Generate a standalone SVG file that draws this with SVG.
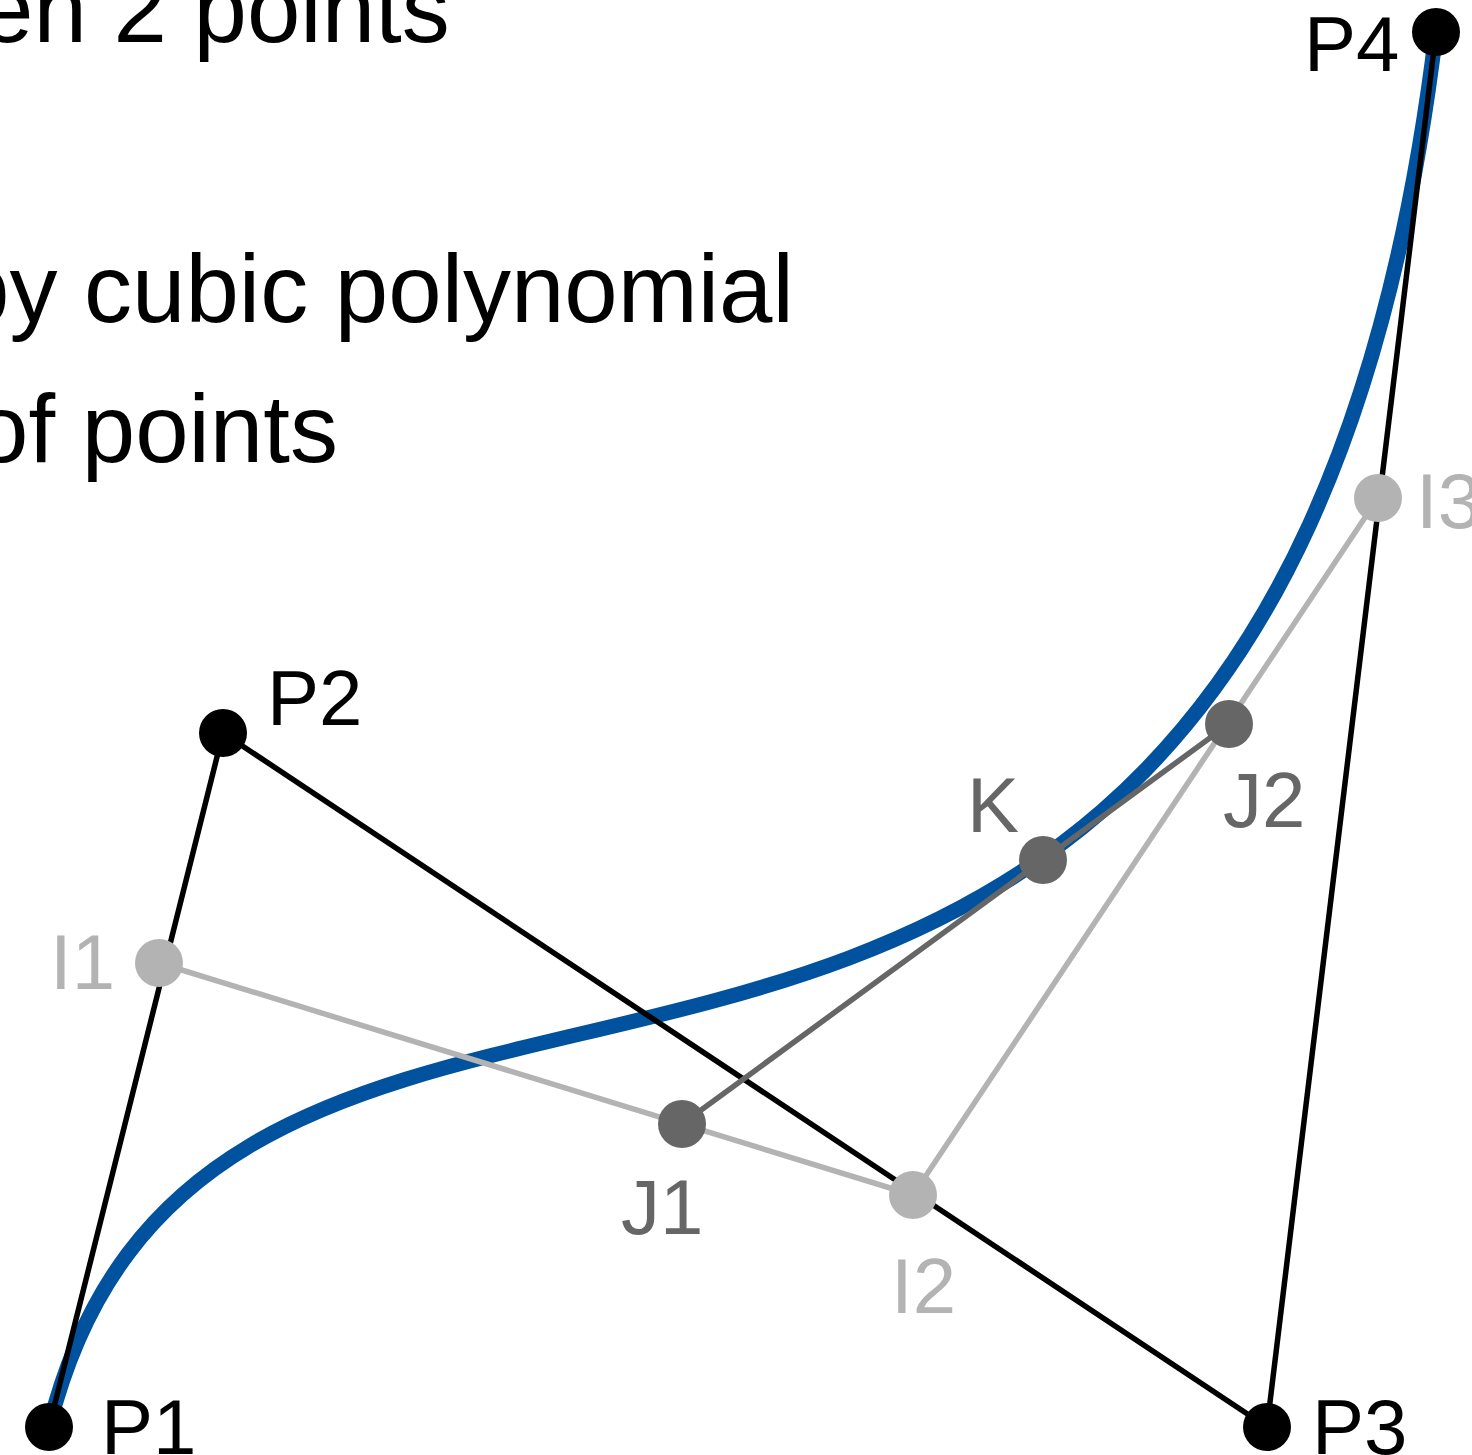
<svg xmlns="http://www.w3.org/2000/svg" width="1472" height="1455" viewBox="0 0 1472 1455">
<style>
text{font-family:"Liberation Sans",Arial,sans-serif;}
.t{font-size:96px;fill:#000;}
.lbl{font-size:78px;}
.blk{fill:#000;}
.lg{fill:#b3b3b3;}
.dg{fill:#666666;}
.ln{fill:none;stroke-width:5.5;stroke-linecap:round;stroke-linejoin:round;}
</style>
<rect width="1472" height="1455" fill="#fff"/>
<g id="title">
<text class="t" x="-20" y="42">en 2 points</text>
<text class="t" x="-44" y="322">by cubic polynomial</text>
<text class="t" x="-25" y="462">of points</text>
</g>
<g id="connectors">
<path id="curve" d="M49,1427 C223,733 1267,1427 1436,32" fill="none" stroke="#00519e" stroke-width="15"/>
<polyline class="ln" points="49,1427 223,733 1267,1427 1436,32" stroke="#000"/>
<polyline class="ln" points="159,963 913,1195 1378,498" stroke="#b3b3b3"/>
<line class="ln" x1="682" y1="1124" x2="1229" y2="724" stroke="#666666"/>
</g>
<g id="P1"><circle class="blk" cx="49" cy="1427" r="24"/><text class="lbl blk" x="101" y="1454">P1</text></g>
<g id="P2"><circle class="blk" cx="223" cy="733" r="24"/><text class="lbl blk" x="267" y="725">P2</text></g>
<g id="P3"><circle class="blk" cx="1267" cy="1427" r="24"/><text class="lbl blk" x="1312" y="1454">P3</text></g>
<g id="P4"><circle class="blk" cx="1436" cy="32" r="24"/><text class="lbl blk" x="1304" y="71">P4</text></g>
<g id="I1"><circle class="lg" cx="159" cy="963" r="24"/><text class="lbl lg" x="50" y="989">I1</text></g>
<g id="I2"><circle class="lg" cx="913" cy="1195" r="24"/><text class="lbl lg" x="891" y="1313">I2</text></g>
<g id="I3"><circle class="lg" cx="1378" cy="498" r="24"/><text class="lbl lg" x="1416" y="528">I3</text></g>
<g id="J1"><circle class="dg" cx="682" cy="1124" r="24"/><text class="lbl dg" x="621" y="1234">J1</text></g>
<g id="J2"><circle class="dg" cx="1229" cy="724" r="24"/><text class="lbl dg" x="1223" y="827">J2</text></g>
<g id="K"><circle class="dg" cx="1043" cy="860" r="24"/><text class="lbl dg" x="967" y="832">K</text></g>
</svg>
